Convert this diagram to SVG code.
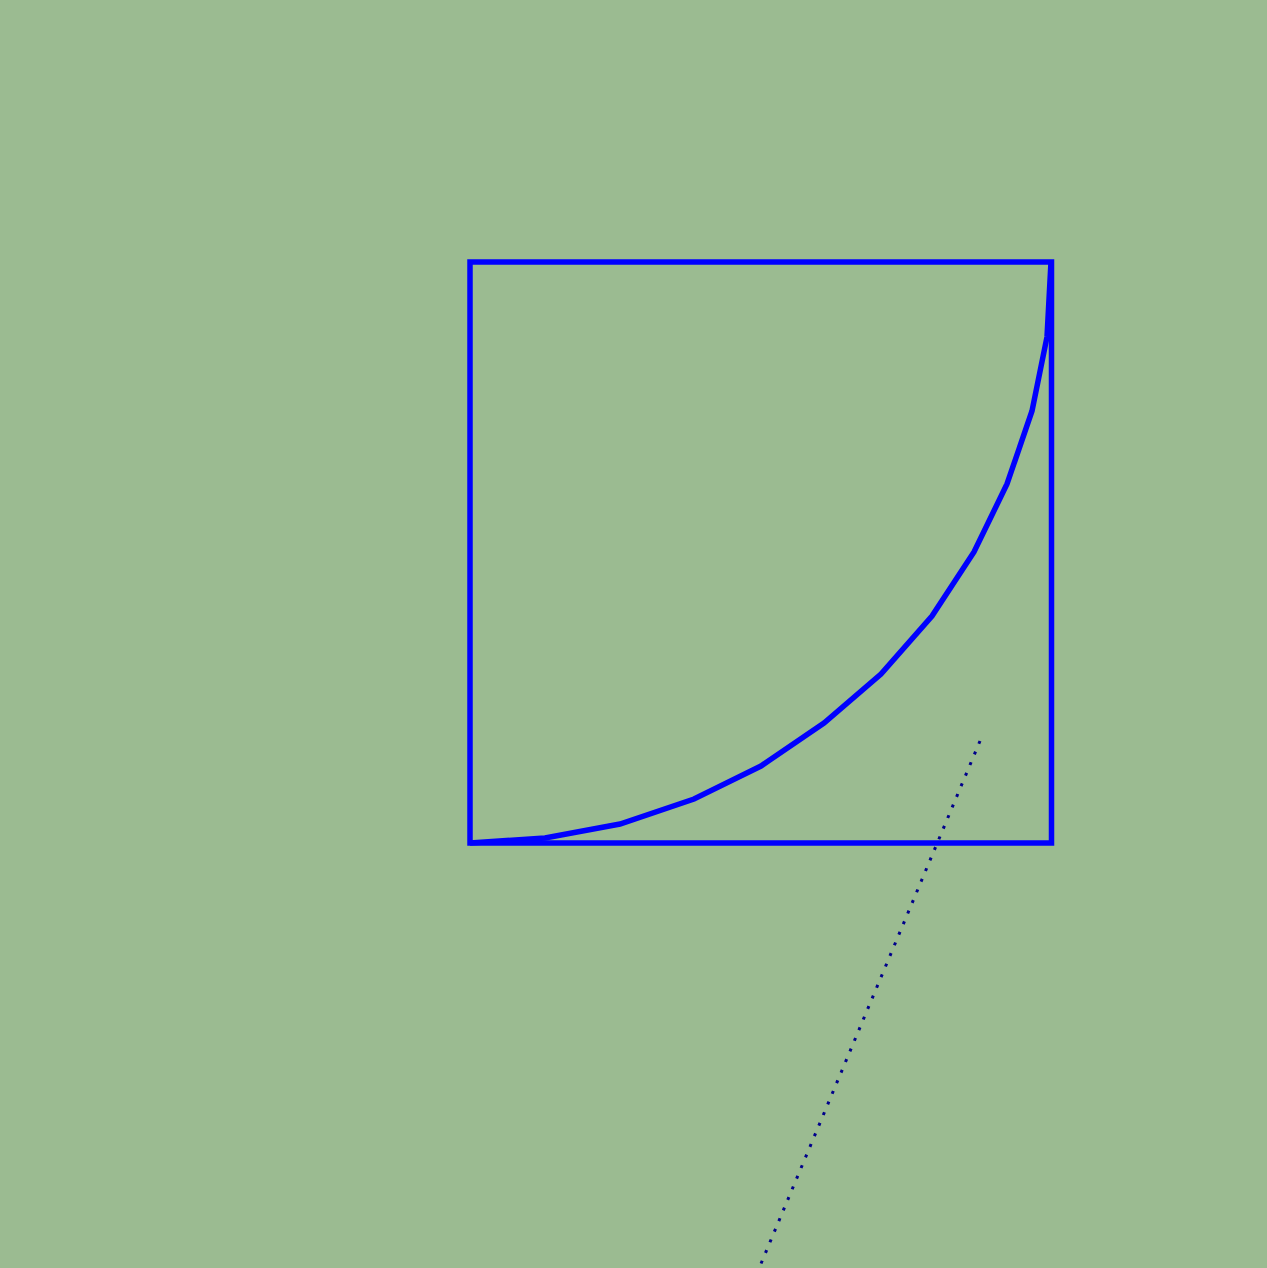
<svg xmlns="http://www.w3.org/2000/svg" width="1267" height="1268" viewBox="0 0 1267 1268">
<style>
.shape{fill:none;stroke:#0000FF;stroke-width:5.5;stroke-linejoin:miter}
.dot{fill:none;stroke:#00008B;stroke-width:3;stroke-dasharray:3 8.5}
</style>
<rect x="0" y="0" width="1267" height="1268" fill="#9BBB91"/>
<g id="square"><rect class="shape" x="470" y="262" width="581.5" height="581"/></g>
<g id="curve"><polyline class="shape" points="470,843 545,838 620,824 694,799 761,766 824,723 881,674 932,616 974,552 1007,484 1032,411 1047,337 1051,262"/></g>
<g id="connectors"><line class="dot" x1="980" y1="741" x2="760" y2="1266"/></g>
</svg>
